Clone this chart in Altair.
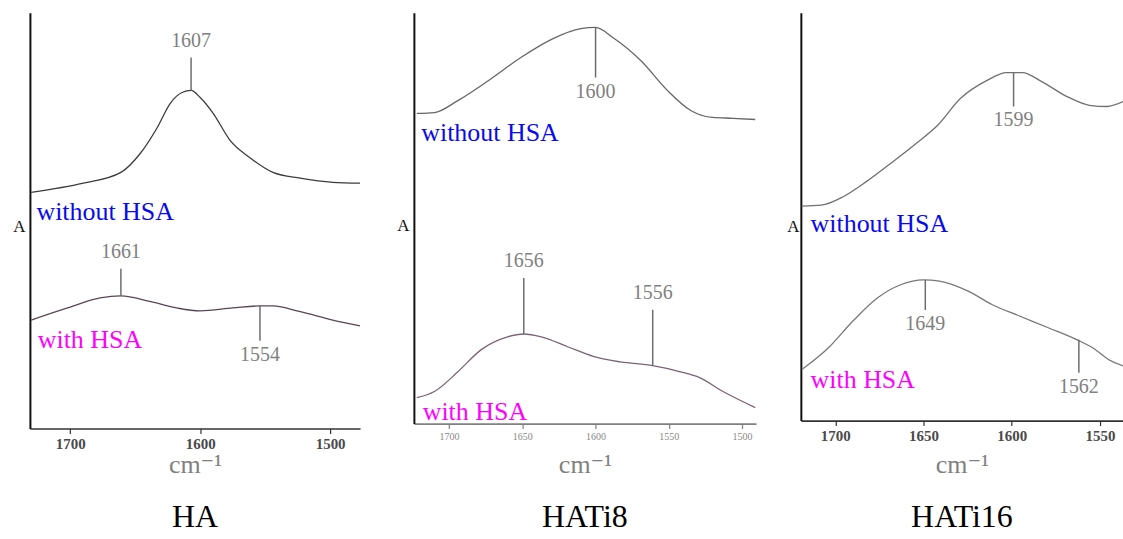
import altair as alt
import pandas as pd

# ---------------- data ----------------
TITLES = ["HA", "HATi8", "HATi16"]
SERIES = ["without HSA", "with HSA"]

# HA
HA_WN_WITHOUT = [1730, 1690, 1661, 1646, 1633, 1623, 1614, 1607, 1600, 1590, 1577, 1562, 1544, 1523, 1498, 1477]
HA_A_WITHOUT = [0.568, 0.590, 0.616, 0.662, 0.724, 0.782, 0.808, 0.813, 0.796, 0.758, 0.693, 0.652, 0.616, 0.602, 0.592, 0.590]
HA_WN_WITH = [1730, 1702, 1677, 1661, 1638, 1618, 1600, 1575, 1554, 1544, 1523, 1498, 1477]
HA_A_WITH = [0.261, 0.290, 0.314, 0.319, 0.305, 0.290, 0.283, 0.290, 0.295, 0.295, 0.281, 0.261, 0.247]
HA_PEAK_LABELS = ["1607", "1661", "1554"]
HA_PEAK_POS = [1607, 1661, 1554]
HA_PEAK_A = [0.813, 0.319, 0.295]
HA_PEAK_TIP = [0.892, 0.384, 0.211]
HA_NAME_WN = [1726, 1725]
HA_NAME_A = [0.520, 0.213]
HA_TICKS = [1700, 1600, 1500]
HA_DOMAIN = [1731, 1477]

# HATi8
T8_WN_WITHOUT = [1722, 1710, 1694, 1673, 1651, 1629, 1610, 1600, 1588, 1569, 1551, 1535, 1520, 1506, 1491]
T8_A_WITHOUT = [0.755, 0.757, 0.786, 0.835, 0.891, 0.937, 0.961, 0.964, 0.939, 0.883, 0.811, 0.762, 0.745, 0.743, 0.740]
T8_WN_WITH = [1722, 1710, 1694, 1678, 1660, 1649, 1637, 1619, 1601, 1583, 1561, 1542, 1529, 1513, 1491]
T8_A_WITH = [0.063, 0.078, 0.126, 0.180, 0.211, 0.218, 0.211, 0.187, 0.163, 0.150, 0.141, 0.126, 0.112, 0.078, 0.039]
T8_PEAK_LABELS = ["1600", "1656", "1556"]
T8_PEAK_POS = [1600, 1649, 1561]
T8_PEAK_A = [0.964, 0.218, 0.141]
T8_PEAK_TIP = [0.842, 0.354, 0.277]
T8_NAME_WN = [1719, 1718]
T8_NAME_A = [0.706, 0.027]
T8_TICKS = [1700, 1650, 1600, 1550, 1500]
T8_DOMAIN = [1724, 1490.5]

# HATi16
T16_WN_WITHOUT = [1719, 1708, 1695, 1682, 1667, 1654, 1642, 1629, 1614, 1603, 1594, 1583, 1569, 1556, 1546, 1537]
T16_A_WITHOUT = [0.526, 0.528, 0.550, 0.587, 0.636, 0.680, 0.724, 0.790, 0.834, 0.853, 0.853, 0.831, 0.795, 0.773, 0.770, 0.782]
T16_WN_WITH = [1719, 1704, 1690, 1676, 1663, 1650, 1641, 1625, 1611, 1596, 1579, 1563, 1554, 1545, 1537]
T16_A_WITH = [0.125, 0.178, 0.244, 0.301, 0.333, 0.345, 0.342, 0.318, 0.284, 0.257, 0.227, 0.198, 0.178, 0.149, 0.134]
T16_PEAK_LABELS = ["1599", "1649", "1562"]
T16_PEAK_POS = [1599, 1649, 1562]
T16_PEAK_A = [0.853, 0.345, 0.198]
T16_PEAK_TIP = [0.770, 0.271, 0.117]
T16_NAME_WN = [1714, 1714]
T16_NAME_A = [0.482, 0.100]
T16_TICKS = [1700, 1650, 1600, 1550]
T16_DOMAIN = [1719.5, 1537]

SERIF = "'Liberation Serif', 'Times New Roman', 'DejaVu Serif', serif"


def panel(title, wn_wo, a_wo, wn_w, a_w, pk_lab, pk_pos, pk_a, pk_tip,
          name_wn, name_a, ticks, domain, width, height,
          line_colors, lab_size, lab_color, lab_weight, axis_color,
          title_pad, a_x, a_y, head_offset):
    lines = pd.DataFrame({
        "wn": wn_wo + wn_w,
        "A": a_wo + a_w,
        "series": [SERIES[0]] * len(wn_wo) + [SERIES[1]] * len(wn_w),
    })
    peaks = pd.DataFrame({"wn": pk_pos, "A": pk_a, "tip": pk_tip, "label": pk_lab})
    peaks["dir"] = ["up" if t > a else "down" for t, a in zip(pk_tip, pk_a)]
    names = pd.DataFrame({"wn": name_wn, "A": name_a, "series": SERIES})

    xaxis = alt.Axis(values=ticks, format="d", grid=False,
                     domainColor=axis_color, domainWidth=1.6,
                     tickColor=axis_color, tickSize=5, tickWidth=1.2,
                     labelFont=SERIF, labelFontSize=lab_size, labelColor=lab_color,
                     labelFontWeight=lab_weight, labelPadding=3,
                     title="cm⁻¹", titleFont=SERIF, titleFontSize=26,
                     titleFontWeight="normal", titleColor="#808080",
                     titlePadding=title_pad)
    yaxis = alt.Axis(labels=False, ticks=False, grid=False,
                     domainColor="#111111", domainWidth=2,
                     title="A", titleFont=SERIF, titleFontSize=17,
                     titleFontWeight="normal", titleColor="#111111",
                     titleAngle=0, titleAlign="center", titleBaseline="middle",
                     titleX=a_x, titleY=a_y)
    yscale = alt.Scale(domain=[0, 1], nice=False, zero=False)
    x = alt.X("wn:Q", scale=alt.Scale(domain=domain, nice=False, zero=False), axis=xaxis)
    y = alt.Y("A:Q", scale=yscale, axis=yaxis)
    y_tip = alt.Y("tip:Q", scale=yscale, axis=yaxis)

    line_layer = alt.Chart(lines).mark_line(
        interpolate="monotone", strokeWidth=1.3, clip=True
    ).encode(
        x=x, y=y,
        color=alt.Color("series:N", scale=alt.Scale(domain=SERIES, range=line_colors), legend=None),
    )
    rule_layer = alt.Chart(peaks).mark_rule(color="#6e6e6e", strokeWidth=1.5).encode(
        x=x, y=y, y2="tip:Q"
    )
    up_text = alt.Chart(peaks).transform_filter(alt.datum.dir == "up").mark_text(
        font=SERIF, fontSize=20, color="#808080", baseline="middle", dy=-17
    ).encode(x=x, y=y_tip, text="label:N")
    down_text = alt.Chart(peaks).transform_filter(alt.datum.dir == "down").mark_text(
        font=SERIF, fontSize=20, color="#808080", baseline="middle", dy=14
    ).encode(x=x, y=y_tip, text="label:N")
    name_layer = alt.Chart(names).mark_text(
        font=SERIF, fontSize=26, align="left", baseline="middle"
    ).encode(
        x=x, y=y, text="series:N",
        color=alt.Color("series:N", scale=alt.Scale(domain=SERIES, range=["#0a0aee", "#ff00ff"]), legend=None),
    )
    return alt.layer(line_layer, rule_layer, up_text, down_text, name_layer).resolve_scale(
        color="independent"
    ).properties(
        width=width, height=height,
        title=alt.TitleParams(title, orient="bottom", font=SERIF, fontSize=32,
                              fontWeight="normal", color="#000000", offset=head_offset),
    )


p1 = panel("HA", HA_WN_WITHOUT, HA_A_WITHOUT, HA_WN_WITH, HA_A_WITH,
           HA_PEAK_LABELS, HA_PEAK_POS, HA_PEAK_A, HA_PEAK_TIP,
           HA_NAME_WN, HA_NAME_A, HA_TICKS, HA_DOMAIN, 331, 417,
           ["#3c3c3c", "#5a4652"], 15, "#4a4a4a", "bold", "#333333", 0, -11, 214, 25)
p2 = panel("HATi8", T8_WN_WITHOUT, T8_A_WITHOUT, T8_WN_WITH, T8_A_WITH,
           T8_PEAK_LABELS, T8_PEAK_POS, T8_PEAK_A, T8_PEAK_TIP,
           T8_NAME_WN, T8_NAME_A, T8_TICKS, T8_DOMAIN, 343, 412,
           ["#666666", "#7a6474"], 10, "#888888", "normal", "#808080", 10, -11, 213, 25)
p3 = panel("HATi16", T16_WN_WITHOUT, T16_A_WITHOUT, T16_WN_WITH, T16_A_WITH,
           T16_PEAK_LABELS, T16_PEAK_POS, T16_PEAK_A, T16_PEAK_TIP,
           T16_NAME_WN, T16_NAME_A, T16_TICKS, T16_DOMAIN, 323, 409,
           ["#707070", "#777777"], 15, "#4a4a4a", "bold", "#333333", 8, -8, 214, 25)

chart = alt.hconcat(
    alt.hconcat(p1, p2, spacing=36),
    p3,
    spacing=30,
).properties(
    padding={"left": 12, "top": 12, "right": 0, "bottom": 0},
    background="white",
).configure_view(stroke=None)

chart.save("out.html", embed_options={"renderer": "svg", "actions": False})
